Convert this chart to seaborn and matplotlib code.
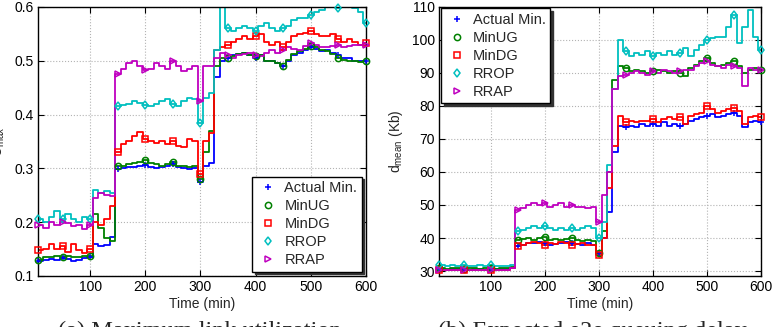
import numpy as np
import matplotlib
matplotlib.use("Agg")
import matplotlib.pyplot as plt
import seaborn as sns

# 10-min steps, value holds from t to t+10
time = np.arange(5, 600, 10)
mark_t = [5, 50, 100, 150, 200, 250, 300, 350, 400, 450, 500, 550, 600]

methods = ['Actual Min.', 'MinUG', 'MinDG', 'RROP', 'RRAP']
colors = ['#0000ff', '#008000', '#ff0000', '#00bfbf', '#bf00bf']
markers = ['+', 'o', 's', 'd', '>']

###############################################################################
# (a) maximum link utilization
util_actual = [0.128, 0.130, 0.132, 0.130, 0.133, 0.131, 0.128, 0.130, 0.133, 0.135,
               0.160, 0.156, 0.158, 0.172,
               0.298, 0.300, 0.302, 0.303, 0.305, 0.307, 0.302, 0.300, 0.303, 0.305,
               0.308, 0.302, 0.300, 0.298, 0.300,
               0.275, 0.305, 0.310, 0.470,
               0.500, 0.505, 0.510, 0.512, 0.515, 0.510, 0.505, 0.510, 0.500, 0.500,
               0.495, 0.490, 0.500, 0.510, 0.515, 0.520, 0.525, 0.522, 0.518, 0.520,
               0.515, 0.510, 0.505, 0.505, 0.500, 0.500, 0.500]
util_minug = [0.130, 0.135, 0.135, 0.138, 0.135, 0.137, 0.136, 0.135, 0.138, 0.138,
              0.215, 0.190, 0.170, 0.165,
              0.305, 0.305, 0.308, 0.310, 0.312, 0.315, 0.310, 0.308, 0.305, 0.308,
              0.312, 0.305, 0.305, 0.303, 0.305,
              0.280, 0.330, 0.370, 0.490,
              0.505, 0.505, 0.508, 0.512, 0.515, 0.510, 0.508, 0.510, 0.500, 0.500,
              0.495, 0.490, 0.502, 0.512, 0.518, 0.522, 0.528, 0.525, 0.520, 0.518,
              0.512, 0.505, 0.502, 0.500, 0.500, 0.498, 0.500]
util_mindg = [0.148, 0.150, 0.160, 0.150, 0.155, 0.145, 0.160, 0.148, 0.142, 0.150,
              0.200, 0.195, 0.205, 0.230,
              0.330, 0.345, 0.350, 0.360, 0.368, 0.355, 0.350, 0.348, 0.350, 0.345,
              0.350, 0.342, 0.340, 0.355, 0.350,
              0.290, 0.350, 0.365, 0.520,
              0.525, 0.530, 0.535, 0.540, 0.545, 0.540, 0.545, 0.550, 0.535, 0.530,
              0.535, 0.525, 0.535, 0.545, 0.550, 0.552, 0.555, 0.550, 0.545, 0.545,
              0.550, 0.540, 0.535, 0.540, 0.535, 0.530, 0.532]
util_rrop = [0.205, 0.200, 0.210, 0.220, 0.205, 0.215, 0.205, 0.200, 0.210, 0.205,
             0.260, 0.255, 0.258, 0.255,
             0.415, 0.418, 0.420, 0.425, 0.422, 0.418, 0.415, 0.420, 0.425, 0.428,
             0.420, 0.415, 0.425, 0.430, 0.428,
             0.385, 0.430, 0.440, 0.520,
             0.600, 0.560, 0.555, 0.560, 0.565, 0.560, 0.555, 0.565, 0.570, 0.560,
             0.555, 0.560, 0.565, 0.575, 0.580, 0.580, 0.585, 0.590, 0.595, 0.600,
             0.600, 0.598, 0.600, 0.600, 0.598, 0.590, 0.570]
util_rrap = [0.195, 0.190, 0.200, 0.195, 0.200, 0.198, 0.192, 0.195, 0.188, 0.195,
             0.245, 0.255, 0.250, 0.248,
             0.475, 0.485, 0.495, 0.500, 0.490, 0.482, 0.485, 0.495, 0.490, 0.485,
             0.500, 0.490, 0.480, 0.485, 0.490,
             0.425, 0.490, 0.490, 0.505,
             0.515, 0.510, 0.505, 0.510, 0.512, 0.515, 0.510, 0.508, 0.515, 0.520,
             0.515, 0.520, 0.525, 0.522, 0.520, 0.528, 0.532, 0.530, 0.525, 0.525,
             0.528, 0.530, 0.525, 0.528, 0.530, 0.530, 0.530]

###############################################################################
# (b) expected e2e queuing delay (Kb)
delay_actual = [30.5, 30.4, 30.5, 30.6, 30.5, 30.4, 30.5, 30.5, 30.4, 30.6, 30.5, 30.5, 30.6, 31.0,
                37.5, 38.0, 38.5, 38.5, 38.8, 38.5, 38.0, 38.2, 38.5, 38.8, 38.5, 38.2, 38.0, 38.5, 38.0,
                35.5, 40.0, 48.0, 66.0,
                74.0, 73.5, 74.0, 73.5, 74.5, 74.0, 74.5, 74.0, 75.0, 74.0, 74.5, 74.0, 74.5, 75.5,
                76.0, 76.5, 77.0, 77.5, 76.5, 77.0, 77.5, 78.0, 77.0, 73.5, 75.0, 75.5, 75.0]
delay_minug = [30.8, 30.7, 30.8, 30.8, 30.7, 30.8, 30.8, 30.7, 30.8, 30.8, 30.7, 30.8, 30.8, 31.2,
               39.5, 39.8, 40.0, 39.5, 40.0, 40.2, 39.5, 39.8, 39.5, 39.8, 40.0, 39.5, 39.2, 39.5, 39.0,
               35.5, 42.0, 60.0, 88.0,
               92.0, 91.5, 90.5, 91.0, 90.5, 90.0, 90.5, 91.0, 90.5, 90.0, 90.5, 90.0, 89.0, 91.5,
               92.5, 93.5, 94.5, 93.0, 92.0, 92.5, 93.0, 93.5, 92.0, 90.0, 91.0, 91.5, 91.0]
delay_mindg = [30.2, 30.3, 30.2, 30.3, 30.2, 30.3, 30.2, 30.2, 30.3, 30.2, 30.3, 30.2, 30.3, 30.8,
               37.5, 38.0, 38.5, 38.8, 38.5, 38.0, 38.5, 38.2, 38.8, 38.5, 38.0, 38.2, 38.5, 38.0, 37.8,
               35.0, 40.0, 55.0, 68.0,
               77.0, 75.0, 75.5, 75.0, 75.5, 75.5, 76.0, 75.0, 76.0, 76.5, 76.0, 76.5, 74.5, 77.0,
               77.5, 78.0, 80.0, 79.0, 78.0, 78.5, 79.0, 79.5, 78.5, 74.5, 76.5, 77.0, 76.5]
delay_rrop = [31.8, 31.5, 31.8, 31.5, 31.8, 31.6, 31.5, 31.8, 31.6, 31.8, 31.5, 31.6, 31.5, 31.8,
              42.0, 42.5, 43.0, 43.5, 43.0, 43.5, 43.0, 42.5, 43.0, 42.5, 43.0, 42.5, 43.0, 43.5, 43.0,
              40.0, 45.0, 62.0, 85.0,
              100.0, 96.5, 95.0, 96.0, 95.5, 96.5, 95.0, 96.0, 95.5, 96.5, 95.5, 96.0, 97.5, 95.0,
              97.0, 98.5, 100.0, 100.5, 101.0, 101.0, 104.0, 107.5, 99.0, 104.0, 109.0, 101.0, 97.0]
delay_rrap = [30.3, 30.4, 30.3, 30.2, 30.4, 30.3, 30.2, 30.4, 30.3, 30.3, 30.4, 30.3, 30.2, 30.8,
              48.5, 49.0, 50.0, 50.5, 50.0, 50.5, 49.5, 50.0, 50.5, 49.5, 50.0, 49.5, 49.5, 49.0, 49.5,
              45.0, 53.0, 60.0, 85.0,
              89.0, 89.5, 90.0, 90.5, 90.0, 89.5, 90.5, 90.0, 91.0, 90.5, 90.0, 90.5, 91.0, 91.0,
              92.0, 93.0, 93.5, 92.5, 92.0, 91.5, 92.5, 92.0, 91.5, 86.0, 91.5, 91.0, 91.0]

###############################################################################
sns.set_theme(style='ticks')
plt.rcParams['font.family'] = ['Liberation Sans', 'DejaVu Sans']
plt.rcParams['mathtext.fontset'] = 'custom'
plt.rcParams['mathtext.rm'] = 'Liberation Sans'

fig = plt.figure(figsize=(7.72, 3.27), dpi=100)
ax1 = fig.add_axes([0.049, 0.156, 0.425, 0.823])
ax2 = fig.add_axes([0.569, 0.156, 0.417, 0.823])


def draw(ax, series):
    for name, vals, c, m in zip(methods, series, colors, markers):
        x = np.append(time, 600)
        y = np.append(vals, vals[-1])
        sns.lineplot(x=x, y=y, ax=ax, color=c, lw=1.3, drawstyle='steps-post',
                     estimator=None, sort=False)
        idx = np.searchsorted(time, mark_t, side='right') - 1
        ax.plot(mark_t, np.asarray(vals)[idx], ls='none', marker=m, ms=4.5,
                mfc='none', mec=c, mew=1.1, label=name, clip_on=False, zorder=4)
    ax.set_xlim(5, 600)
    ax.set_xticks([100, 200, 300, 400, 500, 600])
    ax.grid(True, ls=':', color='0.7', lw=0.8)
    ax.tick_params(direction='in', top=True, right=True, labelsize=10,
                   length=4, width=0.8, colors='black', pad=3)
    for s in ax.spines.values():
        s.set_linewidth(1.0)
        s.set_color('black')
    ax.set_xlabel('Time (min)', fontsize=10, labelpad=2)


leg_kw = dict(fontsize=10.5, frameon=True, fancybox=False, edgecolor='black',
              framealpha=1, borderpad=0.3, handletextpad=0.3, labelspacing=0.28,
              handlelength=1.6, shadow={'color': '0.2', 'alpha': 1})

draw(ax1, [util_actual, util_minug, util_mindg, util_rrop, util_rrap])
ax1.set_ylim(0.1, 0.6)
ax1.set_yticks([0.1, 0.2, 0.3, 0.4, 0.5, 0.6])
ax1.set_ylabel(r'U$_{\rm max}$', fontsize=10)
ax1.yaxis.set_label_coords(-0.095, 0.5)
ax1.legend(loc='lower right', borderaxespad=0.3, **leg_kw)

draw(ax2, [delay_actual, delay_minug, delay_mindg, delay_rrop, delay_rrap])
ax2.set_ylim(28.5, 110)
ax2.set_yticks([30, 40, 50, 60, 70, 80, 90, 100, 110])
ax2.set_ylabel(r'd$_{\rm mean}$ (Kb)', fontsize=10)
ax2.yaxis.set_label_coords(-0.105, 0.5)
ax2.legend(loc='upper left', borderaxespad=0.1, **leg_kw)

fig.text(0.259, -0.031, '(a) Maximum link utilization', ha='center', va='baseline',
         fontsize=17.5, family='Liberation Serif')
fig.text(0.767, -0.031, '(b) Expected e2e queuing delay', ha='center', va='baseline',
         fontsize=17.5, family='Liberation Serif')

fig.savefig('out.png', dpi=100)
